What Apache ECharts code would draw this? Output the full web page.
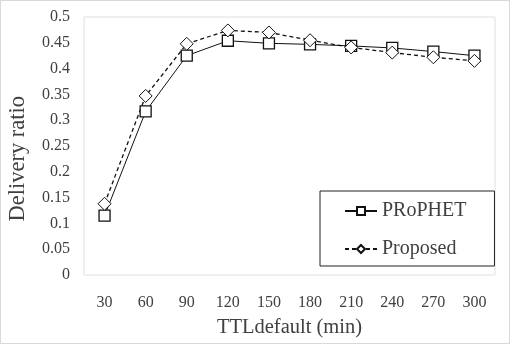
<!DOCTYPE html>
<html><head><meta charset="utf-8">
<script src="https://cdn.jsdelivr.net/npm/echarts@6/dist/echarts.min.js"></script>
<style>html,body{margin:0;padding:0;background:#fff}#c{width:510px;height:344px;box-sizing:border-box;border:1px solid #d9d9d9}</style>
</head><body><div id="c"></div>
<script>
const categories = ['30','60','90','120','150','180','210','240','270','300'];
const prophet = [0.115,0.317,0.425,0.454,0.449,0.447,0.444,0.44,0.433,0.425];
const proposed = [0.138,0.347,0.448,0.474,0.47,0.455,0.441,0.431,0.422,0.415];
const yTicks = [0,0.05,0.1,0.15,0.2,0.25,0.3,0.35,0.4,0.45,0.5];

const chart = echarts.init(document.getElementById('c'));
const font = '"Liberation Serif", "Times New Roman", serif';
chart.setOption({
  animation:false,
  textStyle:{fontFamily:font},
  grid:{left:83,right:14,top:16,bottom:67,show:true,borderColor:'#e0e0e0',borderWidth:1},
  graphic:[{type:'text',left:6,top:95,rotation:Math.PI/2,
    style:{text:'Delivery ratio',fontFamily:font,fontSize:22.5,fill:'#404040'}}],
  xAxis:{type:'category',data:categories,boundaryGap:true,
    name:'TTLdefault (min)',nameLocation:'middle',nameGap:42,
    nameTextStyle:{fontFamily:font,fontSize:20.5,color:'#404040'},
    axisLine:{show:false},axisTick:{show:false},
    axisLabel:{fontFamily:font,fontSize:16,color:'#404040',margin:20}},
  yAxis:{type:'value',min:0,max:0.5,interval:0.05,
    splitLine:{show:false},axisLine:{show:false},axisTick:{show:false},
    axisLabel:{fontFamily:font,fontSize:16,color:'#404040',margin:14,
      formatter:v=>{const i=yTicks.findIndex(t=>Math.abs(t-v)<1e-9);return i>=0?String(yTicks[i]):'';}}},
  legend:{left:319,top:190,orient:'vertical',
    borderColor:'#222',borderWidth:1,padding:[10,28,7,24],itemGap:18,
    itemWidth:32,itemHeight:10,
    textStyle:{fontFamily:font,fontSize:20,lineHeight:20,color:'#404040'},
    data:['PRoPHET','Proposed']},
  series:[
    {name:'PRoPHET',type:'line',data:prophet,symbol:'rect',symbolSize:11,
     lineStyle:{color:'#111',width:1},itemStyle:{color:'#fff',borderColor:'#111',borderWidth:1.3},color:'#111'},
    {name:'Proposed',type:'line',data:proposed,symbol:'diamond',symbolSize:13,
     lineStyle:{color:'#111',width:1.3,type:[4,3]},itemStyle:{color:'#fff',borderColor:'#111',borderWidth:1},color:'#111'}
  ]
});
</script></body></html>
